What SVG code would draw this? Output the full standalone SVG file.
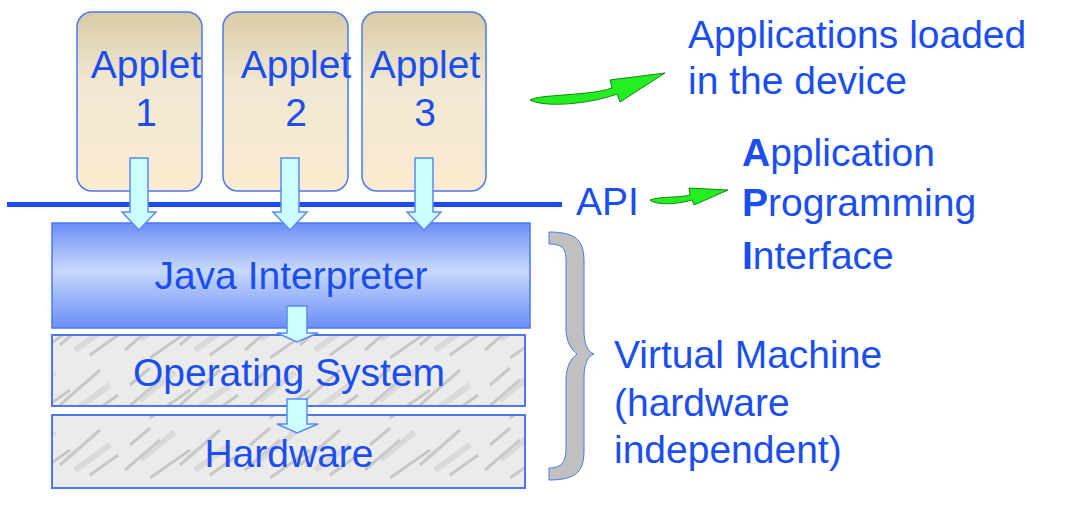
<svg xmlns="http://www.w3.org/2000/svg" width="1073" height="510" viewBox="0 0 1073 510">
<style>
.t{font-family:"Liberation Sans",Arial,sans-serif;fill:#1a4ef0;font-size:39px}
.app{stroke:#4a78f0;stroke-width:1.5;fill:url(#tan)}
.marble{fill:url(#mar);stroke:#4a78f0;stroke-width:2}
.dn{fill:#ccffff;stroke:#5a8af0;stroke-width:1.5}
.g{fill:#22ee22;stroke:#118811;stroke-width:1}
</style>
<defs>
<linearGradient id="tan" x1="0" y1="0" x2="0" y2="1"><stop offset="0" stop-color="#d8cba5"/><stop offset="0.4" stop-color="#f0e8d2"/><stop offset="1" stop-color="#fbebd0"/></linearGradient>
<linearGradient id="blue" x1="0" y1="0" x2="0" y2="1"><stop offset="0" stop-color="#6a8ff5"/><stop offset="0.45" stop-color="#c8d8fc"/><stop offset="1" stop-color="#6a8ff5"/></linearGradient>
<pattern id="mar" width="120" height="60" patternUnits="userSpaceOnUse">
<rect width="120" height="60" fill="#ebebeb"/>
<path d="M5 50 L40 20 M30 58 L70 30 M60 45 L100 10 M90 55 L118 35 M10 25 L30 8" stroke="#b8b8b8" stroke-width="3" opacity="0.7"/>
<path d="M20 40 L55 12 M75 50 L110 25" stroke="#cfcfcf" stroke-width="6" opacity="0.6"/>
</pattern>
</defs>
<g id="applet1"><rect class="app" x="77" y="12" width="125" height="179" rx="15"/><text class="t" x="146" y="78" text-anchor="middle">Applet</text><text class="t" x="146" y="126" text-anchor="middle">1</text></g>
<g id="applet2"><rect class="app" x="223" y="12" width="125" height="179" rx="15"/><text class="t" x="296" y="78" text-anchor="middle">Applet</text><text class="t" x="296" y="126" text-anchor="middle">2</text></g>
<g id="applet3"><rect class="app" x="362" y="12" width="124" height="179" rx="15"/><text class="t" x="425" y="78" text-anchor="middle">Applet</text><text class="t" x="425" y="126" text-anchor="middle">3</text></g>
<g id="api"><rect x="7" y="202" width="555" height="5" fill="#1a4ef0"/><text class="t" x="576" y="215" font-size="36">API</text></g>
<g id="java"><rect x="52" y="223" width="478" height="105" fill="url(#blue)" stroke="#4a78f0" stroke-width="1.5"/><text class="t" x="291" y="289" text-anchor="middle">Java Interpreter</text></g>
<g id="os"><rect class="marble" x="52" y="335" width="473" height="71"/><text class="t" x="289" y="386" text-anchor="middle">Operating System</text></g>
<g id="hw"><rect class="marble" x="52" y="415" width="473" height="73"/><text class="t" x="289" y="467" text-anchor="middle">Hardware</text></g>
<g id="connectors">
<path class="dn" d="M130 158H148V212H156L139 230L122 212H130Z"/>
<path class="dn" d="M281 158H299V212H307L290 230L273 212H281Z"/>
<path class="dn" d="M415 158H433V212H441L424 230L407 212H415Z"/>
<path class="dn" d="M287 306H307V333H318L297 342L277 333H287Z"/>
<path class="dn" d="M287 399H307V424H318L297 433L277 424H287Z"/>
<path class="g" d="M530 100 C540 94 590 96 612 88 L610 80 L665 73 L620 102 L617 94 C590 104 545 108 530 100Z"/>
<path class="g" d="M650 200 C660 196 680 198 690 195 L689 188 L728 190 L694 205 L692 200 C675 205 655 205 650 200Z"/>
</g>
<g id="vm">
<path d="M549 232 C578 232 584 242 584 262 V330 C584 345 588 352 594 354 C588 356 584 363 584 378 V450 C584 470 578 480 549 480 V468 C562 468 566 462 566 448 V380 C566 365 572 358 577 354 C572 350 566 343 566 328 V260 C566 248 562 244 549 244Z" fill="#c0c0c0" stroke="#4a78f0" stroke-width="1"/>
<text class="t" x="614" y="368">Virtual Machine</text><text class="t" x="614" y="416">(hardware</text><text class="t" x="614" y="463">independent)</text>
</g>
<g id="labels">
<text class="t" x="688" y="48">Applications loaded</text><text class="t" x="688" y="94">in the device</text>
<text class="t" x="742" y="166"><tspan font-weight="bold">A</tspan>pplication</text>
<text class="t" x="742" y="216"><tspan font-weight="bold">P</tspan>rogramming</text>
<text class="t" x="742" y="269"><tspan font-weight="bold">I</tspan>nterface</text>
</g>
</svg>
